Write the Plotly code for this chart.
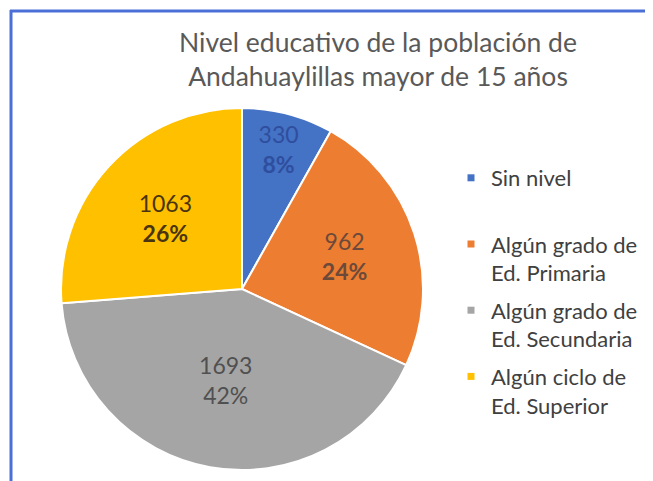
import plotly.graph_objects as go

categories = ["Sin nivel", "Algún grado de<br>Ed. Primaria", "Algún grado de<br>Ed. Secundaria", "Algún ciclo de<br>Ed. Superior"]
values = [330, 962, 1693, 1063]
colors = ["#4472C4", "#ED7D31", "#A5A5A5", "#FFC000"]
text_colors = ["#2F4E9E", "#6B4A3A", "#505050", "#4A3410"]
templates = ["%{value}<br><b>%{percent:.0%}</b>", "%{value}<br><b>%{percent:.0%}</b>",
             "%{value}<br>%{percent:.0%}", "%{value}<br><b>%{percent:.0%}</b>"]
title_text = "Nivel educativo de la población de<br>Andahuaylillas mayor de 15 años"

# page body has an 8px margin: figure is drawn at (8, 8) in the window
OFF = 8
W, H = 653 - OFF, 481 - OFF


def px(x):
    return (x - OFF) / W


def py(y):
    return 1 - (y - OFF) / H


cx, cy, r = 242, 289, 181

fig = go.Figure()
fig.add_trace(go.Pie(
    labels=categories, values=values, sort=False, direction="clockwise", rotation=0,
    marker=dict(colors=colors, line=dict(color="white", width=2)),
    texttemplate=templates, textposition="inside", insidetextorientation="horizontal",
    textfont=dict(family="Lato", size=23, color=text_colors),
    showlegend=False, hoverinfo="label+value+percent",
    domain=dict(x=[px(cx - r), px(cx + r)], y=[py(cy + r), py(cy - r)]),
))

for i, (name, col) in enumerate(zip(categories, colors)):
    label = name if "<br>" in name else name + "<br> "
    fig.add_trace(go.Scatter(
        x=[None], y=[None], mode="markers", name=label, legendgroup=str(i),
        marker=dict(symbol="square", size=7, color=col),
    ))

fig.update_layout(
    width=W, height=H,
    margin=dict(l=0, r=0, t=0, b=0),
    paper_bgcolor="white", plot_bgcolor="white",
    xaxis=dict(visible=False), yaxis=dict(visible=False),
    font=dict(family="Lato", color="#404040"),
    title=dict(text=title_text, x=px(378), xanchor="center", xref="paper",
               y=py(52), yanchor="middle", yref="paper",
               font=dict(family="Lato", size=26.5, color="#595959")),
    legend=dict(x=px(451), xanchor="left", y=py(157), yanchor="top",
                font=dict(family="Lato", size=22, color="#404040"),
                valign="top", tracegroupgap=6, bgcolor="rgba(0,0,0,0)"),
    shapes=[
        dict(type="line", xref="paper", yref="paper", x0=px(10), x1=1, y0=py(11), y1=py(11),
             line=dict(color="#4A6FD6", width=3)),
        dict(type="line", xref="paper", yref="paper", x0=px(11), x1=px(11), y0=0, y1=py(10),
             line=dict(color="#4A6FD6", width=3)),
    ],
)

fig.write_html("out.html")
